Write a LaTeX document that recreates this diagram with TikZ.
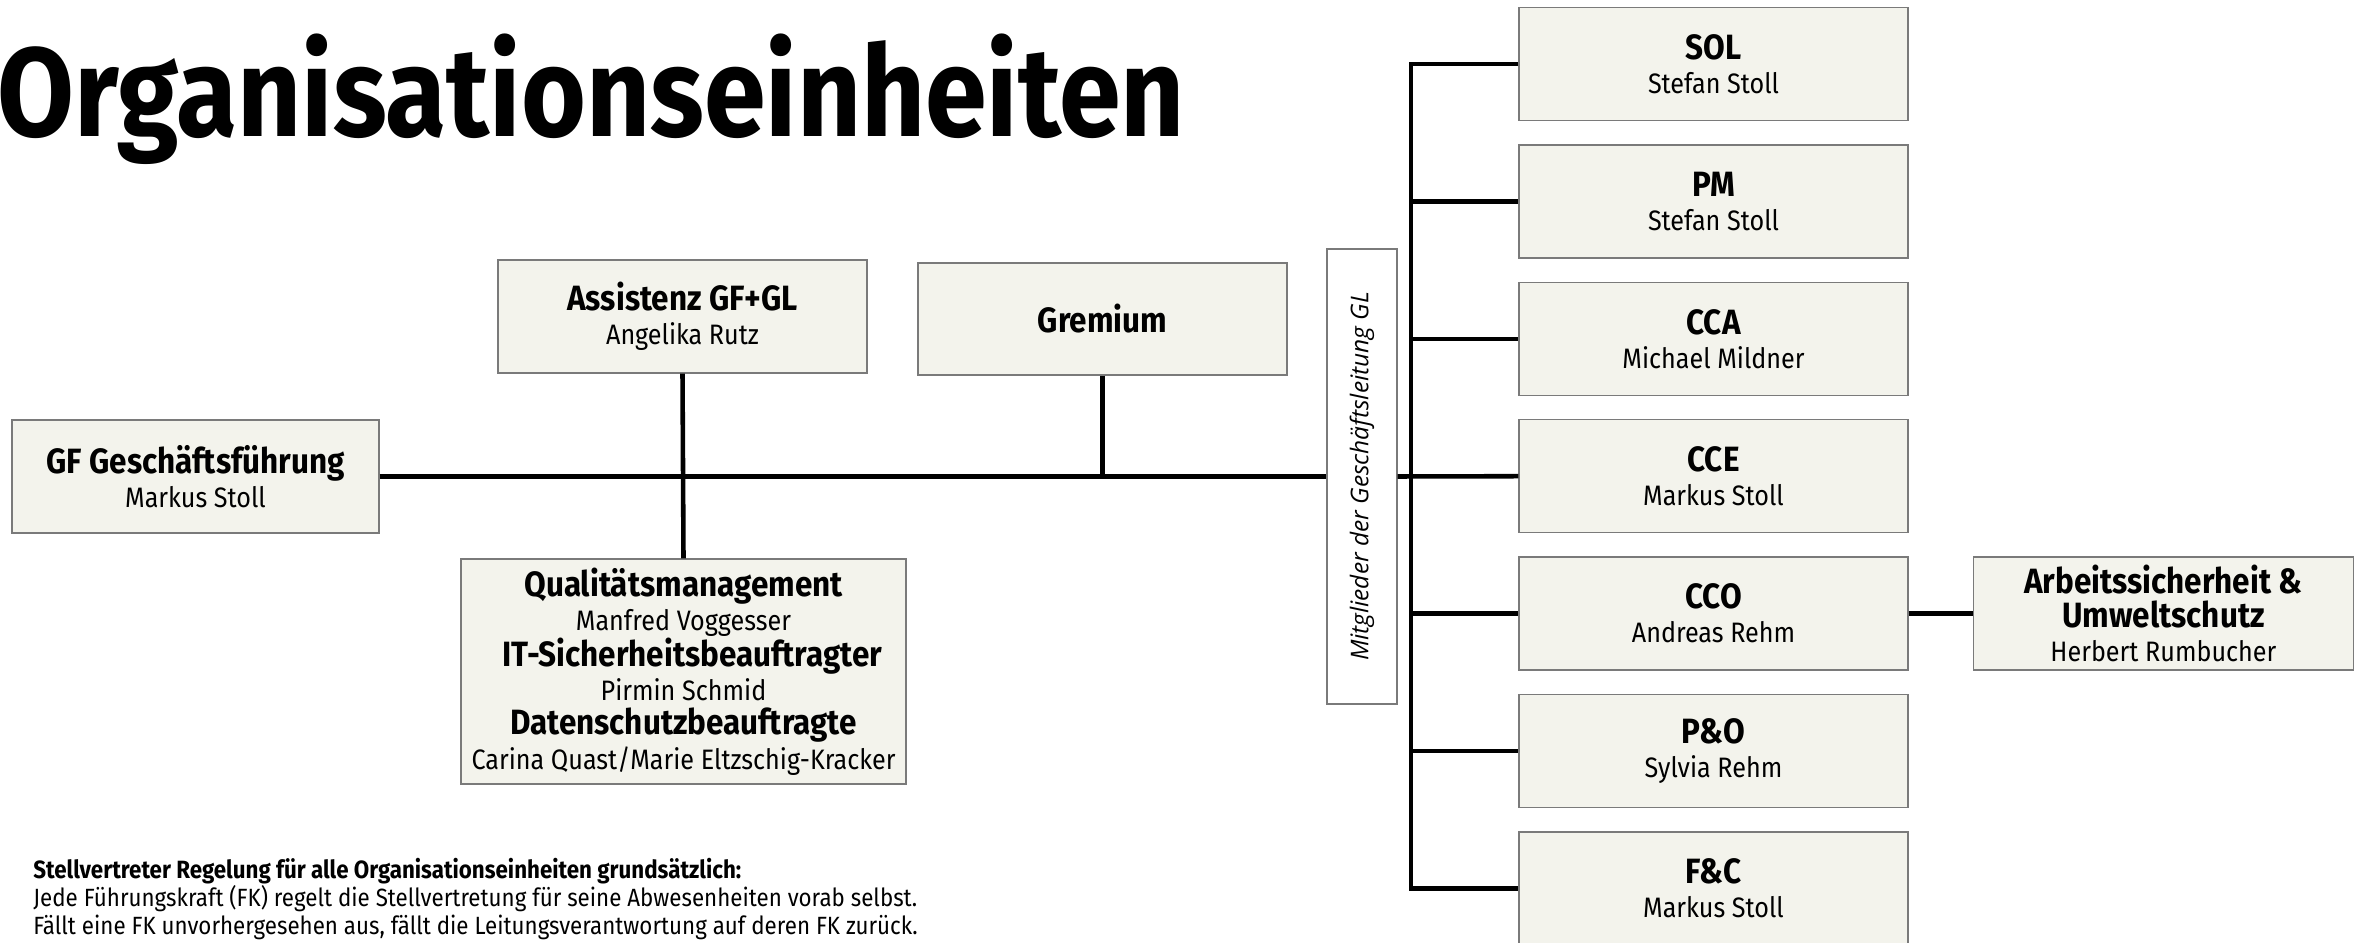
\documentclass[tikz,border=0pt]{standalone}
\usepackage{fontspec}
\setmainfont{Fira Sans}[FakeStretch=0.895]
\newfontfamily\titlefont{Fira Sans}[FakeStretch=0.88]
\newfontfamily\glfont{Open Sans}
\usetikzlibrary{positioning}
\definecolor{boxfill}{HTML}{F3F3EC}
\definecolor{boxline}{HTML}{7A7A7A}
\tikzset{
    unit/.style={rectangle, draw=boxline, fill=boxfill, line width=0.8pt, minimum width=#1, minimum height=2.26cm, align=center, inner sep=0pt, font=\fontsize{16}{19.4}\selectfont},
    unit/.default=7.78cm,
    link/.style={line width=2.6pt, black}
}
\newcommand{\head}[1]{{\fontsize{20}{20}\selectfont\bfseries #1}}

\begin{document}
\begin{tikzpicture}
    \useasboundingbox (0,0) rectangle (47.22,18.86);

    % Title
    \node[anchor=base west, inner sep=0pt] (title) at (-0.06,16.12) {\titlefont\fontsize{72}{72}\selectfont\bfseries Organisationseinheiten};

    % Left part
    \node[unit=7.34cm] (gf) at (3.91,9.33) {\head{GF Geschäftsführung}\\Markus Stoll};
    \node[unit=7.38cm] (assist) at (13.65,12.53) {\head{Assistenz GF+GL}\\Angelika Rutz};
    \node[unit=7.38cm, minimum height=2.24cm] (grem) at (22.05,12.48) {\head{Gremium}};
    \node[unit=8.9cm, minimum height=4.5cm] (qm) at (13.67,5.43) {\head{Qualitätsmanagement}\\Manfred Voggesser\\\hspace{0.35cm}\head{IT-Sicherheitsbeauftragter}\\Pirmin Schmid\\\head{Datenschutzbeauftragte}\\Carina Quast/Marie Eltzschig-Kracker};

    % Members of GL
    \node[draw=boxline, line width=0.8pt, rotate=90, minimum width=9.1cm, minimum height=1.4cm, inner sep=0pt, font=\glfont\itshape\fontsize{13.9}{15}\selectfont] (gl) at (27.24,9.33) {Mitglieder der Geschäftsleitung GL};

    % Right column
    \node[unit] (sol) at (34.27,17.58) {\head{SOL}\\Stefan Stoll};
    \node[unit, below=0.46cm of sol] (pm) {\head{PM}\\Stefan Stoll};
    \node[unit, below=0.46cm of pm] (cca) {\head{CCA}\\Michael Mildner};
    \node[unit, below=0.46cm of cca] (cce) {\head{CCE}\\Markus Stoll};
    \node[unit, below=0.46cm of cce] (cco) {\head{CCO}\\Andreas Rehm};
    \node[unit, below=0.46cm of cco] (po) {\head{P\&O}\\Sylvia Rehm};
    \node[unit, below=0.46cm of po] (fc) {\head{F\&C}\\Markus Stoll};
    \node[unit=7.6cm, right=1.28cm of cco] (asu) {\head{Arbeitssicherheit \&}\\\head{Umweltschutz}\\Herbert Rumbucher};

    % Connectors
    \coordinate (bus) at (28.22,0);
    \draw[link] (gf.east) -- (gl.north);
    \draw[link] (gl.south) -- (cce.west);
    \draw[link] (assist.south) -- (qm.north);
    \draw[link] (grem.south) -- (grem.south |- gf.east);
    \draw[link] (sol.west) -| (bus |- fc.west) -- (fc.west);
    \foreach \n in {pm,cca,cco,po}
        \draw[link] (bus |- \n.west) -- (\n.west);
    \draw[link] (cco.east) -- (asu.west);

    % Note
    \node[anchor=base west, align=left, inner sep=0pt, font=\fontsize{14.2}{15.9}\selectfont] (note) at (0.66,0.17) {\textbf{Stellvertreter Regelung für alle Organisationseinheiten grundsätzlich:}\\Jede Führungskraft (FK) regelt die Stellvertretung für seine Abwesenheiten vorab selbst.\\Fällt eine FK unvorhergesehen aus, fällt die Leitungsverantwortung auf deren FK zurück.};
\end{tikzpicture}
\end{document}
